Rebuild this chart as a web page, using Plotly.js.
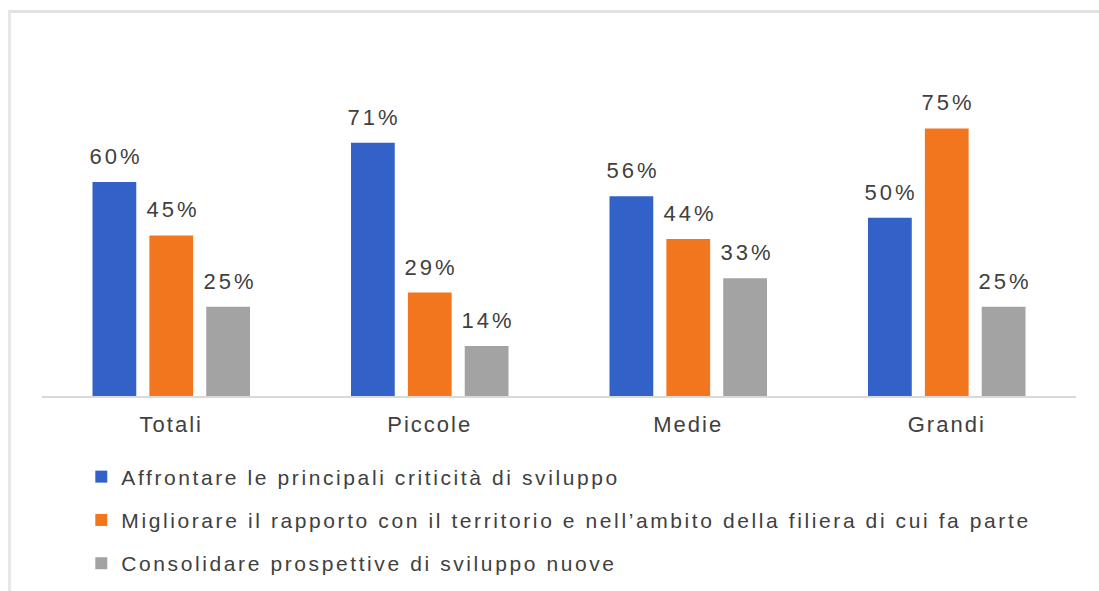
<!DOCTYPE html>
<html><head><meta charset="utf-8">
<script src="https://cdn.plot.ly/plotly-3.0.1.min.js"></script>
<style>
html,body{margin:0;padding:0;background:#fff;}
#frame{position:absolute;left:8px;top:10px;width:1100px;height:600px;border-top:3px solid #e2e2e2;border-left:3px solid #e8e8e8;}
#chart{position:absolute;left:0;top:0;width:1099px;height:591px;}
#chart .legendtext{letter-spacing:2.6px;}
#chart .legend .scrollbox{clip-path:none !important;}
#chart .xtick text{letter-spacing:2px;}
#chart .annotation-text{letter-spacing:3px;}
</style></head>
<body>
<div id="frame"></div>
<div id="chart"></div>
<script>
const categories = ["Totali", "Piccole", "Medie", "Grandi"];
const seriesNames = [
  "Affrontare le principali criticità di sviluppo",
  "Migliorare il rapporto con il territorio e nell’ambito della filiera di cui fa parte",
  "Consolidare prospettive di sviluppo nuove"
];
const affrontare = [60, 71, 56, 50];
const migliorare = [45, 29, 44, 75];
const consolidare = [25, 14, 33, 25];
const colors = ["#3262C8", "#F2761E", "#A3A3A3"];

const values = [affrontare, migliorare, consolidare];
const traces = values.map((v, i) => ({
  type: "bar",
  name: seriesNames[i],
  x: categories,
  y: v,
  marker: {color: colors[i]},
  legendgroup: "g" + i,
  hoverinfo: "none"
}));

// value labels placed above each bar through the axis scales
const slot = 57; // px between bar centres within a group
const annotations = [];
values.forEach((v, i) => {
  v.forEach((d, j) => {
    annotations.push({
      x: categories[j], y: d, xref: "x", yref: "y",
      text: d + "%", showarrow: false,
      xanchor: "center", yanchor: "bottom",
      xshift: (i - 1) * slot + 1.5, yshift: 11,
      font: {family: "Liberation Sans, Arial, sans-serif", size: 22, color: "#404040"}
    });
  });
});

const layout = {
  width: 1099, height: 591,
  margin: {l: 42, r: 23, t: 60, b: 195, autoexpand: false},
  paper_bgcolor: "rgba(0,0,0,0)",
  plot_bgcolor: "rgba(0,0,0,0)",
  barmode: "group",
  bargap: 0.34,
  bargroupgap: 0.23,
  font: {family: "Liberation Sans, Arial, sans-serif", color: "#404040"},
  xaxis: {
    showline: true, linecolor: "#d9d9d9", linewidth: 2,
    ticks: "", tickfont: {size: 22, color: "#404040"}, ticklabelstandoff: 8,
    showgrid: false, zeroline: false
  },
  yaxis: {
    range: [0, 94.2], visible: false, showgrid: false, zeroline: false
  },
  annotations: annotations,
  showlegend: true,
  legend: {
    orientation: "v", x: 0.038, xanchor: "left", y: -0.18, yanchor: "top",
    font: {size: 21, color: "#404040"},
    tracegroupgap: 13, itemwidth: 30, traceorder: "grouped",
    bgcolor: "rgba(0,0,0,0)"
  }
};
Plotly.newPlot("chart", traces, layout, {displayModeBar: false, staticPlot: true});
</script>
</body></html>
